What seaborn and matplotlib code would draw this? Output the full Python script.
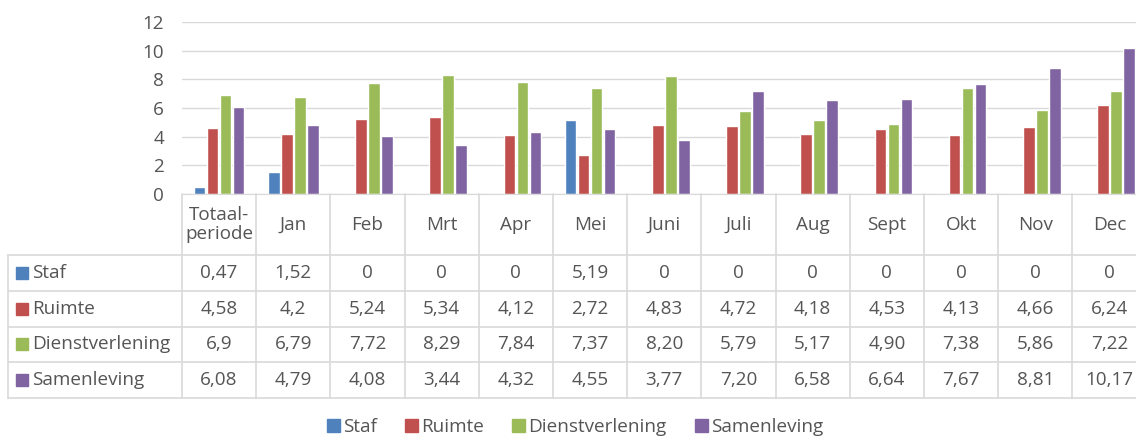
import numpy as np
import pandas as pd
import seaborn as sns
import matplotlib.pyplot as plt
from matplotlib.patches import Patch, Rectangle

# data as shown in the chart's data table
perioden = ['Totaal-\nperiode', 'Jan', 'Feb', 'Mrt', 'Apr', 'Mei', 'Juni',
            'Juli', 'Aug', 'Sept', 'Okt', 'Nov', 'Dec']
reeksen = ['Staf', 'Ruimte', 'Dienstverlening', 'Samenleving']
staf = ['0,47', '1,52', '0', '0', '0', '5,19', '0', '0', '0', '0', '0', '0', '0']
ruimte = ['4,58', '4,2', '5,24', '5,34', '4,12', '2,72', '4,83', '4,72',
          '4,18', '4,53', '4,13', '4,66', '6,24']
dienstverlening = ['6,9', '6,79', '7,72', '8,29', '7,84', '7,37', '8,20', '5,79',
                   '5,17', '4,90', '7,38', '5,86', '7,22']
samenleving = ['6,08', '4,79', '4,08', '3,44', '4,32', '4,55', '3,77', '7,20',
               '6,58', '6,64', '7,67', '8,81', '10,17']
kleuren = ['#4F81BD', '#C0504D', '#9BBB59', '#8064A2']

tabel = [staf, ruimte, dienstverlening, samenleving]

rows = []
for naam, reeks in zip(reeksen, tabel):
    for p, s in zip(perioden, reeks):
        rows.append({'periode': p, 'reeks': naam, 'waarde': float(s.replace(',', '.'))})
df = pd.DataFrame(rows)

sns.set_style('white')
plt.rcParams['font.family'] = ['Open Sans', 'DejaVu Sans']
tekst = '#555555'
lijn = '#d9d9d9'
fs = 13.6

W, H = 1136, 440
fig = plt.figure(figsize=(W / 100, H / 100), dpi=100)

# plot area in pixels
left, top, base, colw = 182, 22, 194, 74.2
ax = fig.add_axes([left / W, 1 - base / H, 13 * colw / W, (base - top) / H])
sns.barplot(data=df, x='periode', y='waarde', hue='reeks', order=perioden,
            hue_order=reeksen, palette=kleuren, width=0.7, gap=0.1,
            ax=ax, legend=False, saturation=1)
ax.set_xlim(-0.5, 12.5)
ax.set_ylim(0, 12)
ax.set_yticks(range(0, 13, 2))
ax.yaxis.grid(True, color=lijn, lw=1)
ax.set_axisbelow(True)
for s in ['top', 'right', 'left']:
    ax.spines[s].set_visible(False)
ax.spines['bottom'].set_color(lijn)
ax.set_xticks([])
ax.set_xlabel('')
ax.set_ylabel('')
ax.tick_params(axis='y', length=0, pad=13, labelsize=fs, labelcolor=tekst)

# data table below the plot
tab_left, tab_bottom = 8, 398
tax = fig.add_axes([tab_left / W, 1 - tab_bottom / H, 13 * colw / W + (left - tab_left) / W,
                    (tab_bottom - base) / H])
xmin = -0.5 - (left - tab_left) / colw
tax.set_xlim(xmin, 12.5)
tax.set_ylim(tab_bottom - base, 0)
tax.axis('off')

kop = 61
rijh = (tab_bottom - base - kop) / 4
edges = [kop + i * rijh for i in range(5)]

for i in range(14):
    tax.plot([-0.5 + i, -0.5 + i], [0, edges[-1]], color=lijn, lw=1.2, clip_on=False)
tax.plot([xmin, xmin], [kop, edges[-1]], color=lijn, lw=1.2, clip_on=False)
for y in edges:
    tax.plot([xmin, 12.5], [y, y], color=lijn, lw=1.2, clip_on=False)

for i, p in enumerate(perioden):
    tax.text(i, kop / 2, p, ha='center', va='center', fontsize=fs, color=tekst,
             linespacing=1.1)

sq_w = 12 / colw
for r, (naam, reeks, kleur) in enumerate(zip(reeksen, tabel, kleuren)):
    yc = (edges[r] + edges[r + 1]) / 2
    tax.add_patch(Rectangle((xmin + 8 / colw, yc - 6), sq_w, 12, color=kleur, clip_on=False))
    tax.text(xmin + 24 / colw, yc, naam, ha='left', va='center', fontsize=fs, color=tekst)
    for i, s in enumerate(reeks):
        tax.text(i, yc, s, ha='center', va='center', fontsize=fs, color=tekst)

handles = [Patch(color=k, label=n) for k, n in zip(kleuren, reeksen)]
leg = fig.legend(handles=handles, ncol=4, loc='center', bbox_to_anchor=(0.506, 0.03),
                 frameon=False, handlelength=0.7, handleheight=0.7, handletextpad=0.15,
                 columnspacing=1.5, fontsize=fs, borderpad=0.1)
for t in leg.get_texts():
    t.set_color(tekst)

fig.savefig('out.png', dpi=100)
